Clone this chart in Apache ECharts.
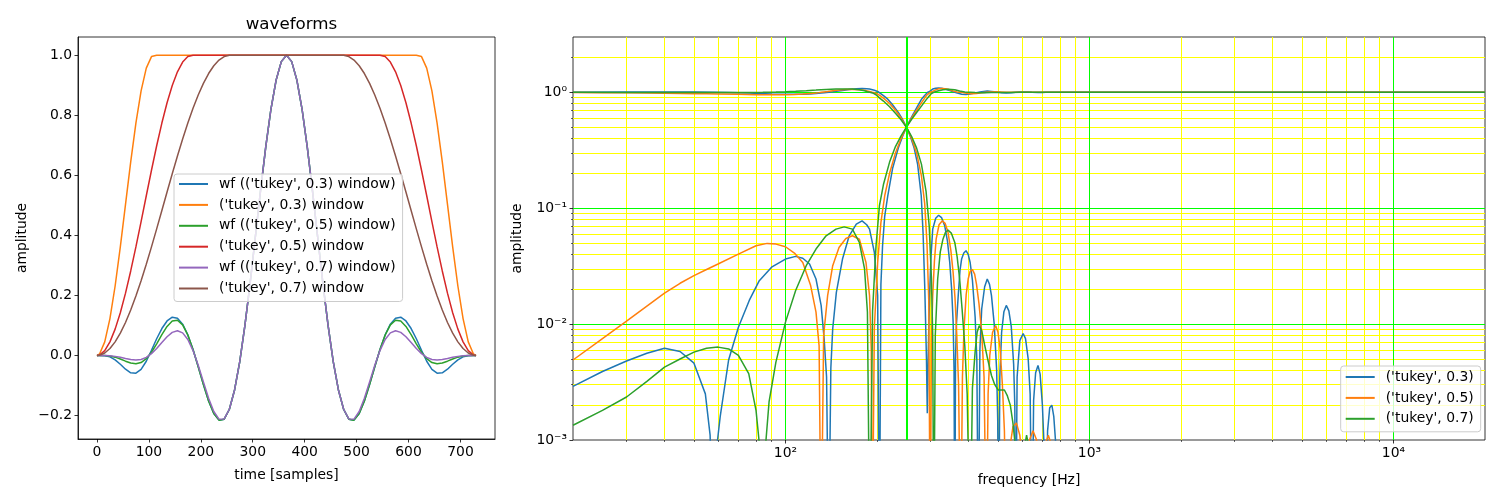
<!DOCTYPE html>
<html>
<head>
<meta charset="utf-8">
<script src="https://cdn.jsdelivr.net/npm/echarts@6/dist/echarts.min.js"></script>
<style>
html,body{margin:0;padding:0;background:#fff;}
#chart{width:1500px;height:500px;}
</style>
</head>
<body>
<div id="chart"></div>
<script>
// ---------------- left panel: waveforms ----------------
const sampleIdx = [0,5,15,25,35,45,55,65,75,85,95,105,115,125,135,145,155,165,175,185,195,205,215,225,235,245,255,265,275,285,295,305,315,325,335,345,355,365,375,385,395,405,415,425,435,445,455,465,475,485,495,505,515,525,535,545,555,565,575,585,595,605,615,625,635,645,655,665,675,685,695,705,715,725,730];

const wfTukey03 = [0,0.0001,-0.0004,-0.0045,-0.0143,-0.0292,-0.0456,-0.0575,-0.0589,-0.0461,-0.0190,0.0175,0.0558,0.0899,0.1151,0.1276,0.1244,0.1046,0.0688,0.0199,-0.0373,-0.0968,-0.1512,-0.1930,-0.2152,-0.2119,-0.1789,-0.1146,-0.0200,0.1011,0.2422,0.3949,0.5492,0.6944,0.8203,0.9175,0.9790,1.0,
  0.9790,0.9175,0.8203,0.6944,0.5492,0.3949,0.2422,0.1011,-0.0200,-0.1146,-0.1789,-0.2119,-0.2152,-0.1930,-0.1512,-0.0968,-0.0373,0.0199,0.0688,0.1046,0.1244,0.1276,0.1151,0.0899,0.0558,0.0175,-0.0190,-0.0461,-0.0589,-0.0575,-0.0456,-0.0292,-0.0143,-0.0045,-0.0004,0.0001,0];
const winTukey03 = [0,0.0051,0.0456,0.1232,0.2316,0.3619,0.5036,0.6449,0.7744,0.8815,0.9573,0.9958,1,1,1,1,1,1,1,1,1,1,1,1,1,1,1,1,1,1,1,1,1,1,1,1,1,1,
  1,1,1,1,1,1,1,1,1,1,1,1,1,1,1,1,1,1,1,1,1,1,1,1,1,0.9958,0.9573,0.8815,0.7744,0.6449,0.5036,0.3619,0.2316,0.1232,0.0456,0.0051,0];
const wfTukey05 = [0,0.0000,-0.0001,-0.0017,-0.0054,-0.0115,-0.0188,-0.0251,-0.0276,-0.0233,-0.0106,0.0109,0.0390,0.0696,0.0969,0.1148,0.1176,0.1022,0.0685,0.0199,-0.0373,-0.0968,-0.1512,-0.1930,-0.2152,-0.2119,-0.1789,-0.1146,-0.0200,0.1011,0.2422,0.3949,0.5492,0.6944,0.8203,0.9175,0.9790,1.0,
  0.9790,0.9175,0.8203,0.6944,0.5492,0.3949,0.2422,0.1011,-0.0200,-0.1146,-0.1789,-0.2119,-0.2152,-0.1930,-0.1512,-0.0968,-0.0373,0.0199,0.0685,0.1022,0.1176,0.1148,0.0969,0.0696,0.0390,0.0109,-0.0106,-0.0233,-0.0276,-0.0251,-0.0188,-0.0115,-0.0054,-0.0017,-0.0001,0.0000,0];
const winTukey05 = [0,0.0019,0.0166,0.0456,0.0880,0.1427,0.2078,0.2817,0.3619,0.4463,0.5322,0.6172,0.6988,0.7744,0.8420,0.8994,0.9450,0.9775,0.9958,1,1,1,1,1,1,1,1,1,1,1,1,1,1,1,1,1,1,1,
  1,1,1,1,1,1,1,1,1,1,1,1,1,1,1,1,1,1,0.9958,0.9775,0.9450,0.8994,0.8420,0.7744,0.6988,0.6172,0.5322,0.4463,0.3619,0.2817,0.2078,0.1427,0.0880,0.0456,0.0166,0.0019,0];
const wfTukey07 = [0,0.0000,-0.0001,-0.0009,-0.0028,-0.0060,-0.0100,-0.0135,-0.0151,-0.0130,-0.0060,0.0064,0.0235,0.0434,0.0627,0.0772,0.0827,0.0754,0.0533,0.0164,-0.0324,-0.0877,-0.1420,-0.1863,-0.2118,-0.2110,-0.1789,-0.1146,-0.0200,0.1011,0.2422,0.3949,0.5492,0.6944,0.8203,0.9175,0.9790,1.0,
  0.9790,0.9175,0.8203,0.6944,0.5492,0.3949,0.2422,0.1011,-0.0200,-0.1146,-0.1789,-0.2110,-0.2118,-0.1863,-0.1420,-0.0877,-0.0324,0.0164,0.0533,0.0754,0.0827,0.0772,0.0627,0.0434,0.0235,0.0064,-0.0060,-0.0130,-0.0151,-0.0135,-0.0100,-0.0060,-0.0028,-0.0009,-0.0001,0.0000,0];
const winTukey07 = [0,0.0009,0.0085,0.0234,0.0456,0.0746,0.1100,0.1514,0.1980,0.2491,0.3041,0.3620,0.4219,0.4831,0.5445,0.6053,0.6644,0.7211,0.7744,0.8236,0.8679,0.9067,0.9393,0.9653,0.9842,0.9958,1.0,1,1,1,1,1,1,1,1,1,1,1,
  1,1,1,1,1,1,1,1,1,1,1.0,0.9958,0.9842,0.9653,0.9393,0.9067,0.8679,0.8236,0.7744,0.7211,0.6644,0.6053,0.5445,0.4831,0.4219,0.3620,0.3041,0.2491,0.1980,0.1514,0.1100,0.0746,0.0456,0.0234,0.0085,0.0009,0];

const waveNames = ["wf (('tukey', 0.3) window)", "('tukey', 0.3) window", "wf (('tukey', 0.5) window)", "('tukey', 0.5) window", "wf (('tukey', 0.7) window)", "('tukey', 0.7) window"];
const waveColors = ['#1f77b4','#ff7f0e','#2ca02c','#d62728','#9467bd','#8c564b'];
const waveTicksX = [0,100,200,300,400,500,600,700];
const waveTicksY = [-0.2,0,0.2,0.4,0.6,0.8,1.0];

// ---------------- right panel: frequency responses [Hz, amplitude] ----------------
const lpTukey03 = [[20,1.0029],[30,1.0048],[40,1.0062],[50,1.0046],[58,1.0],[65,0.9951],[70,0.9906],[76,0.984],[82,0.9763],[90,0.969],[100,0.9636],[108,0.9616],[114,0.963],[120,0.967],[126,0.9755],[131,0.9855],[134,0.9925],[139,1.0],[143,1.0091],[147,1.0188],[154,1.0364],[162,1.0578],[171,1.0728],[178.6,1.0778],[185,1.072],[189,1.066],[196,1.0417],[201,1.0176],[204,1.0],[210,0.935],[217,0.872],[225,0.78],[235,0.67],[243,0.58],[250,0.5],[258,0.41],[265,0.33],[272,0.24],[279.6,0.128],[283.6,0.06],[287.3,0.02],[290.9,0.005],[292.7,0.0017],[295,0.006],[297.8,0.0176],[301,0.038],[305,0.066],[312,0.082],[319,0.087],[326,0.083],[334,0.0706],[341,0.052],[347,0.034],[352,0.02],[356,0.0105],[358.5,0.004],[360.5,0.0001],[362.5,0.005],[365,0.01],[370,0.0176],[375,0.029],[379.6,0.0364],[386,0.041],[392.6,0.043],[399,0.04],[405,0.034],[412,0.024],[420.6,0.0115],[426,0.005],[431,0.0001],[436,0.006],[442,0.0135],[452,0.021],[461,0.0245],[469,0.022],[476,0.0176],[486,0.01],[495,0.004],[499,0.0015],[502.7,0.0001],[507,0.0035],[514,0.0085],[523,0.0128],[532.5,0.0145],[543,0.013],[553,0.0095],[563,0.0045],[568,0.002],[572,0.0001],[578,0.0035],[590,0.0072],[605,0.0083],[616,0.0075],[628.6,0.005],[638,0.0025],[647,0.0001],[655,0.0022],[665,0.0038],[677,0.0044],[688,0.0037],[700,0.002],[710,0.0008],[718,0.0001],[728,0.0012],[740,0.0019],[752,0.002],[763,0.0016],[775,0.0009],[785,0.0001]];
const hpTukey03 = [[20,0.0029],[25,0.0039],[30,0.0048],[35,0.0056],[40,0.0062],[45,0.0058],[50,0.0046],[54.5,0.0025],[56.5,0.0011],[58,0.0001],[59.5,0.0009],[61,0.0016],[65,0.0049],[70,0.0094],[76,0.016],[82,0.0237],[90,0.031],[100,0.0364],[108,0.0384],[114,0.037],[120,0.033],[126,0.0245],[131,0.0145],[134,0.0075],[136.5,0.0035],[138.7,0.0001],[141,0.0042],[143,0.0091],[147,0.0188],[154,0.0364],[162,0.0578],[171,0.0728],[178.6,0.0778],[185,0.072],[189,0.066],[196,0.0417],[201,0.0176],[203.7,0.0001],[206,0.022],[208.6,0.0474],[212,0.085],[217,0.128],[225,0.22],[235,0.33],[243,0.42],[250,0.5],[258,0.59],[265,0.67],[272,0.76],[280,0.87],[287,0.94],[293,0.998],[298,1.0176],[305,1.066],[312,1.082],[319,1.087],[326,1.083],[334,1.0706],[341,1.052],[347,1.034],[356,1.0105],[360.5,1.0],[370,0.9824],[380,0.9636],[392.6,0.957],[405,0.966],[420.6,0.9885],[431,1.0],[442,1.0135],[461,1.0245],[476,1.0176],[495,1.004],[502.7,1.0],[514,0.9915],[532.5,0.9855],[553,0.9905],[572,1.0],[590,1.0072],[605,1.0083],[628.6,1.005],[647,1.0],[677,0.9956],[700,0.998],[718,1.0],[752,1.002],[785,1.0],[1000,1.0],[20000,1.0]];
const lpTukey05 = [[20,0.995],[25,0.9925],[30,0.9894],[35,0.9857],[40,0.9815],[45,0.9775],[50,0.9738],[55,0.9704],[60,0.967],[70,0.9598],[80,0.9526],[87,0.9503],[93,0.951],[100,0.9535],[107,0.959],[114,0.966],[121,0.9785],[126,0.9873],[129,0.9935],[131,1.0],[133.5,1.008],[137.6,1.0176],[143,1.0319],[150,1.0458],[158,1.0548],[166,1.0578],[175,1.054],[184,1.034],[189,1.0176],[191.5,1.006],[193,1.0],[196,0.991],[201,0.966],[206,0.925],[212,0.872],[220,0.8],[230,0.7],[240,0.6],[250,0.5],[260,0.4],[270,0.3],[280,0.19],[287,0.11],[292,0.05],[296,0.016],[299.3,0.0001],[302,0.007],[305,0.0176],[309,0.035],[313,0.054],[320,0.072],[328,0.0778],[335,0.074],[342.5,0.0619],[350,0.043],[356,0.0279],[361,0.017],[366,0.008],[371,0.003],[377,0.0001],[382,0.0035],[386.6,0.0091],[393,0.018],[399,0.0245],[405,0.0285],[412,0.0295],[419,0.027],[425,0.022],[433,0.015],[442,0.0085],[450,0.0035],[458,0.0001],[464,0.0025],[470,0.0054],[480,0.0085],[491.6,0.0097],[500,0.0085],[508,0.0062],[517,0.003],[525,0.0012],[533,0.0001],[545,0.0008],[560,0.0013],[575,0.0014],[590,0.0011],[603,0.0006],[615,0.0001],[635,0.001],[652,0.0012],[670,0.001],[692,0.0001],[715,0.0009],[732,0.0011],[750,0.0009],[772,0.0001]];
const hpTukey05 = [[20,0.0049],[25,0.0075],[30,0.0106],[35,0.0143],[40,0.0185],[45,0.0225],[50,0.0262],[55,0.0296],[60,0.033],[70,0.0402],[80,0.0474],[87,0.0497],[93,0.049],[100,0.0465],[107,0.041],[114,0.034],[121,0.0215],[126,0.0127],[129,0.0065],[131,0.0001],[133.5,0.008],[137.6,0.0176],[143,0.0319],[150,0.0458],[158,0.0548],[166,0.0578],[175,0.054],[184,0.034],[189,0.0176],[191.5,0.006],[193,0.0001],[196,0.0092],[201,0.034],[206,0.075],[212,0.128],[220,0.2],[230,0.3],[240,0.4],[250,0.5],[260,0.6],[270,0.7],[280,0.81],[287,0.89],[292,0.95],[296,0.984],[299.3,1.0],[305,1.0176],[313,1.054],[320,1.072],[328,1.0778],[335,1.074],[342.5,1.0619],[350,1.043],[356,1.0279],[366,1.008],[377,1.0],[386.6,0.9909],[399,0.9755],[412,0.9705],[425,0.978],[442,0.9915],[458,1.0],[470,1.0054],[491.6,1.0097],[508,1.0062],[533,1.0],[575,0.9986],[615,1.0],[652,1.0012],[692,1.0],[1000,1.0],[20000,1.0]];
const lpTukey07 = [[20,0.9987],[30,0.9977],[40,0.9957],[50,0.9943],[60,0.9937],[70,0.9946],[75.7,0.9963],[80,0.9982],[84.2,1.0],[88.3,1.0021],[93,1.0047],[100,1.0104],[108,1.0195],[117,1.0319],[126,1.0444],[136,1.0578],[146.6,1.066],[156,1.069],[166,1.066],[175,1.0506],[182,1.0299],[186,1.0127],[189.4,1.0],[193.4,0.987],[198.5,0.953],[203.7,0.895],[210,0.84],[220,0.75],[230,0.66],[240,0.58],[250,0.5],[260,0.415],[270,0.33],[280,0.24],[290,0.14],[297,0.07],[302,0.025],[305,0.008],[307.4,0.0001],[311,0.008],[316.7,0.0245],[323,0.042],[329.6,0.054],[336,0.062],[342.5,0.0647],[351,0.061],[360.5,0.0506],[367,0.038],[374,0.0245],[381,0.0135],[389,0.0064],[396,0.0025],[405,0.0001],[412,0.0028],[420.6,0.0058],[427,0.0085],[433.8,0.0097],[442,0.0088],[452,0.0066],[464,0.0048],[476,0.0036],[488,0.003],[501,0.0027],[512,0.0027],[525,0.0027],[537,0.0024],[549,0.002],[560,0.0014],[570,0.0009],[583,0.0004],[595,0.0001],[608,0.0008],[621,0.0011],[635,0.0008],[650,0.0001]];
const hpTukey07 = [[20,0.00134],[25,0.0018],[30,0.00235],[35,0.0032],[40,0.00426],[45,0.005],[50,0.00573],[55,0.0062],[60,0.00633],[65,0.0061],[70,0.00537],[75.7,0.00374],[80,0.0018],[82.5,0.0008],[84.2,0.0001],[86,0.0009],[88.3,0.00213],[93,0.0047],[100,0.0104],[108,0.0195],[117,0.0319],[126,0.0444],[136,0.0578],[146.6,0.066],[156,0.069],[166,0.066],[175,0.0506],[182,0.0299],[186,0.0127],[189.4,0.0001],[193.4,0.013],[198.5,0.047],[203.7,0.105],[210,0.16],[220,0.25],[230,0.34],[240,0.42],[250,0.5],[260,0.585],[270,0.67],[280,0.76],[290,0.86],[297,0.93],[302,0.975],[307.4,1.0],[316.7,1.0245],[329.6,1.054],[342.5,1.0647],[360.5,1.0506],[374,1.0245],[389,1.0064],[405,1.0],[420.6,0.9942],[433.8,0.9903],[452,0.9934],[476,0.9964],[501,0.9973],[525,0.9973],[549,0.998],[595,1.0],[621,1.0011],[650,1.0],[1000,1.0],[20000,1.0]];

const freqNames = ["('tukey', 0.3)", "('tukey', 0.5)", "('tukey', 0.7)"];
const freqColors = ['#1f77b4','#ff7f0e','#2ca02c'];
const majorTicksX = [100,1000,10000];
const majorTicksY = [0.001,0.01,0.1,1];
const minorGridX = [30,40,50,60,70,80,90,200,300,400,500,600,700,800,900,2000,3000,4000,5000,6000,7000,8000,9000];
const minorGridY = [0.002,0.003,0.004,0.005,0.006,0.007,0.008,0.009,0.02,0.03,0.04,0.05,0.06,0.07,0.08,0.09,0.2,0.3,0.4,0.5,0.6,0.7,0.8,0.9,2];
const crossoverHz = 250;

// ---------------- chart ----------------
const FONT = 'DejaVu Sans';
const txt = {fontFamily: FONT, fontSize: 13.9, color: '#000'};
const SUP = {'-':'\u207B','0':'\u2070','1':'\u00B9','2':'\u00B2','3':'\u00B3','4':'\u2074','5':'\u2075','6':'\u2076','7':'\u2077','8':'\u2078','9':'\u2079'};
function logLabel(v) {
  const e = Math.log10(v); const r = Math.round(e);
  if (Math.abs(e - r) > 1e-6) return '';
  return '10' + String(r).split('').map(c => SUP[c]).join('');
}
function pairs(xs, ys) { return xs.map((x, i) => [x, ys[i]]); }

const waveData = [wfTukey03, winTukey03, wfTukey05, winTukey05, wfTukey07, winTukey07];
const series = [];
waveData.forEach((arr, i) => {
  series.push({
    name: waveNames[i], type: 'line', xAxisIndex: 0, yAxisIndex: 0,
    data: pairs(sampleIdx, arr), symbol: 'none', clip: true, z: 2,
    lineStyle: {color: waveColors[i], width: 1.5}, itemStyle: {color: waveColors[i]}
  });
});
const freqData = [[lpTukey03, hpTukey03], [lpTukey05, hpTukey05], [lpTukey07, hpTukey07]];
freqData.forEach((pair, i) => {
  pair.forEach(d => {
    series.push({
      name: freqNames[i], type: 'line', xAxisIndex: 1, yAxisIndex: 1,
      data: d, symbol: 'none', clip: true, z: 3,
      lineStyle: {color: freqColors[i], width: 1.5}, itemStyle: {color: freqColors[i]}
    });
  });
});
series.push({
  type: 'line', xAxisIndex: 1, yAxisIndex: 1, data: [], silent: true,
  markLine: {
    silent: true, symbol: 'none', label: {show: false}, animation: false, z: 6,
    lineStyle: {color: '#00ff00', width: 2, type: 'solid', opacity: 1},
    emphasis: {disabled: true},
    data: [{xAxis: crossoverHz}]
  }
});

const tickStyle = {show: true, inside: false, length: 3.5, lineStyle: {color: '#000', width: 0.8}};
const lineStyle = {show: true, onZero: false, lineStyle: {color: '#000', width: 0.8}};
const majorLine = {color: '#00ff00', width: 1, opacity: 1};
const minorSplit = {show: true, lineStyle: {color: '#ffff00', width: 1}};
const noMinor = {minorTick: {show: false}, minorSplitLine: {show: false}, splitArea: {show: false}};

const option = {
  animation: false,
  backgroundColor: '#fff',
  textStyle: {fontFamily: FONT},
  title: {
    text: 'waveforms', left: 286.5, top: 11, textAlign: 'center',
    textStyle: {fontFamily: FONT, fontSize: 16.7, fontWeight: 'normal', color: '#000'}
  },
  grid: [
    {left: 78, top: 37, width: 417, height: 402, show: true, borderColor: '#000', borderWidth: 0.8, containLabel: false},
    {left: 573, top: 37, width: 912, height: 403, show: true, borderColor: '#000', borderWidth: 0.8, containLabel: false}
  ],
  xAxis: [
    {type: 'value', gridIndex: 0, min: -36.5, max: 766.5,
     axisLine: lineStyle, splitLine: {show: false},
     axisTick: Object.assign({customValues: waveTicksX}, tickStyle),
     axisLabel: Object.assign({customValues: waveTicksX, margin: 6}, txt),
     name: 'time [samples]', nameLocation: 'middle', nameGap: 29, nameTextStyle: txt},
    Object.assign({type: 'log', gridIndex: 1, min: 20, max: 20000, logBase: 10, z: 1,
     axisLine: {show: false}, splitLine: {show: true, lineStyle: majorLine},
     axisTick: Object.assign({customValues: majorTicksX}, tickStyle),
     axisLabel: Object.assign({formatter: logLabel, margin: 6}, txt),
     name: 'frequency [Hz]', nameLocation: 'middle', nameGap: 33, nameTextStyle: txt}, noMinor),
    Object.assign({type: 'log', gridIndex: 1, min: 20, max: 20000, logBase: 10, position: 'bottom', z: 0,
     axisLine: {show: false}, splitLine: minorSplit,
     axisTick: {show: true, inside: false, length: 2, customValues: minorGridX, lineStyle: {color: '#000', width: 0.6}},
     axisLabel: {show: false}}, noMinor)
  ],
  yAxis: [
    {type: 'value', gridIndex: 0, min: -0.278, max: 1.061,
     axisLine: lineStyle, splitLine: {show: false},
     axisTick: Object.assign({customValues: waveTicksY}, tickStyle),
     axisLabel: Object.assign({customValues: waveTicksY, margin: 6,
       formatter: v => v.toFixed(1).replace('-', '\u2212')}, txt),
     name: 'amplitude', nameLocation: 'middle', nameGap: 49, nameRotate: 90, nameTextStyle: txt},
    Object.assign({type: 'log', gridIndex: 1, min: 0.001, max: 3, logBase: 10, z: 1,
     axisLine: {show: false}, splitLine: {show: true, showMinLine: false, lineStyle: majorLine},
     axisTick: Object.assign({customValues: majorTicksY}, tickStyle),
     axisLabel: Object.assign({formatter: logLabel, margin: 6}, txt),
     name: 'amplitude', nameLocation: 'middle', nameGap: 49, nameRotate: 90, nameTextStyle: txt}, noMinor),
    Object.assign({type: 'log', gridIndex: 1, min: 0.001, max: 3, logBase: 10, position: 'left', z: 0,
     axisLine: {show: false}, splitLine: minorSplit,
     axisTick: {show: true, inside: false, length: 2, customValues: minorGridY, lineStyle: {color: '#000', width: 0.6}},
     axisLabel: {show: false}}, noMinor)
  ],
  legend: [
    {data: waveNames, orient: 'vertical', left: 174, top: 174, itemWidth: 29, itemHeight: 14, itemGap: 6.9,
     padding: [3, 7, 6, 4], backgroundColor: 'rgba(255,255,255,0.8)', borderColor: '#cccccc', borderWidth: 1, borderRadius: 3,
     itemStyle: {opacity: 0}, textStyle: Object.assign({padding: [0, 0, 0, 6]}, txt), selectedMode: false},
    {data: freqNames, orient: 'vertical', left: 1340.7, top: 366, itemWidth: 29, itemHeight: 14, itemGap: 6.9,
     padding: [4, 7, 6, 4], backgroundColor: 'rgba(255,255,255,0.8)', borderColor: '#cccccc', borderWidth: 1, borderRadius: 3,
     itemStyle: {opacity: 0}, textStyle: Object.assign({padding: [0, 0, 0, 6]}, txt), selectedMode: false}
  ],
  series: series
};
const chart = echarts.init(document.getElementById('chart'), null, {renderer: 'canvas'});
chart.setOption(option);
</script>
</body>
</html>
